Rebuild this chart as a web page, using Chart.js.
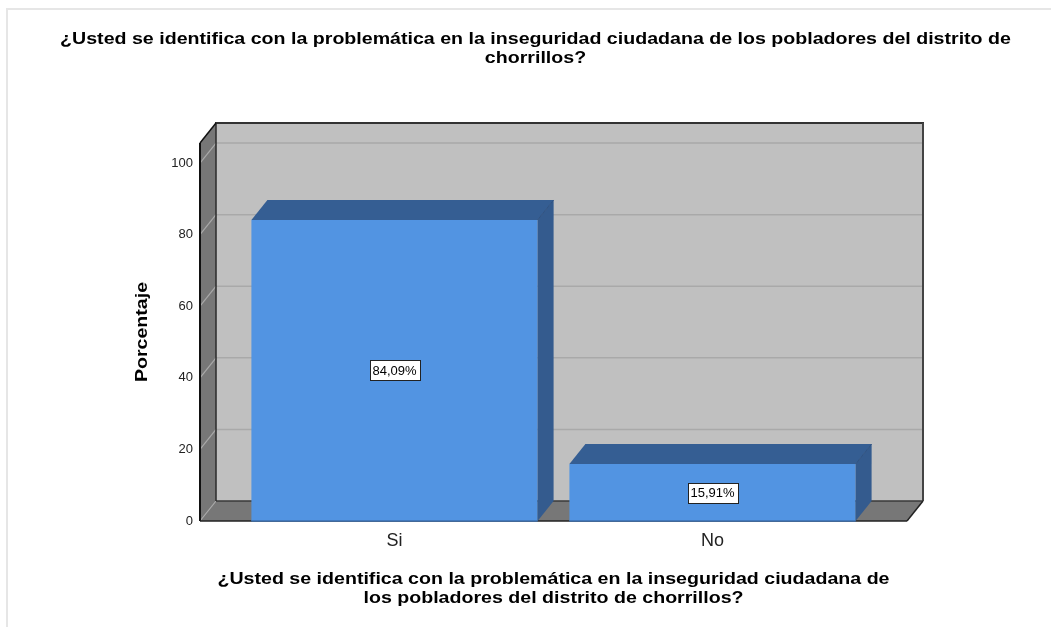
<!DOCTYPE html>
<html>
<head>
<meta charset="utf-8">
<script src="https://cdn.jsdelivr.net/npm/chart.js@4.4.1/dist/chart.umd.min.js"></script>
<style>
  html, body { margin: 0; padding: 0; background: #ffffff; }
  #wrap { position: relative; width: 1051px; height: 627px; }
</style>
</head>
<body>
<div id="wrap"><canvas id="chart" width="1051" height="627"></canvas></div>
<script>
// Chart data
const categories = ['Si', 'No'];
const percentages = [84.09, 15.91];
const yTicks = [0, 20, 40, 60, 80, 100];

const titleLines = [
  '¿Usted se identifica con la problemática en la inseguridad ciudadana de los pobladores del distrito de',
  'chorrillos?'
];
const xTitleLines = [
  '¿Usted se identifica con la problemática en la inseguridad ciudadana de',
  'los pobladores del distrito de chorrillos?'
];
const yTitle = 'Porcentaje';

// 3D look
const DEPTH_X = 16;
const DEPTH_Y = -20;
const FRAME_PAD = 35.5;   // floor / wall extends past outer categories
const FONT = '"Liberation Sans", Arial, sans-serif';
const TITLE_STRETCH = 1.225; // titles in the original are drawn wide

function poly(ctx, pts, fill, stroke, lw) {
  ctx.beginPath();
  ctx.moveTo(pts[0][0], pts[0][1]);
  for (let i = 1; i < pts.length; i++) ctx.lineTo(pts[i][0], pts[i][1]);
  ctx.closePath();
  if (fill) { ctx.fillStyle = fill; ctx.fill(); }
  if (stroke) { ctx.strokeStyle = stroke; ctx.lineWidth = lw || 1; ctx.stroke(); }
}

function line(ctx, x1, y1, x2, y2, color, lw) {
  ctx.beginPath();
  ctx.moveTo(x1, y1);
  ctx.lineTo(x2, y2);
  ctx.strokeStyle = color;
  ctx.lineWidth = lw || 1;
  ctx.stroke();
}

// centered text, stretched horizontally along its direction
function wideText(ctx, txt, x, y, angle) {
  ctx.save();
  ctx.translate(x, y);
  if (angle) ctx.rotate(angle);
  ctx.scale(TITLE_STRETCH, 1);
  ctx.fillText(txt, 0, 0);
  ctx.restore();
}

// Walls, floor and grid behind the bars
const wallsPlugin = {
  id: 'walls',
  beforeDatasetsDraw(chart) {
    const ctx = chart.ctx;
    const a = chart.chartArea;
    const y = chart.scales.y;
    const L = a.left - FRAME_PAD, R = a.right + FRAME_PAD;
    const T = a.top, B = y.getPixelForValue(0);
    const dx = DEPTH_X, dy = DEPTH_Y;
    ctx.save();

    // back wall
    poly(ctx, [[L + dx, T + dy], [R + dx, T + dy], [R + dx, B + dy], [L + dx, B + dy]], '#c0c0c0');
    // left side wall
    poly(ctx, [[L, T], [L + dx, T + dy], [L + dx, B + dy], [L, B]], '#777777');
    // floor
    poly(ctx, [[L, B], [L + dx, B + dy], [R + dx, B + dy], [R, B]], '#777777');

    // grid lines
    yTicks.forEach(function(v) {
      if (v === 0) return;
      const py = y.getPixelForValue(v);
      line(ctx, L + dx, py + dy, R + dx, py + dy, '#a9a9a9', 1.5);
      line(ctx, L, py, L + dx, py + dy, '#a9a9a9', 1.2);
    });
    line(ctx, L, B, L + dx, B + dy, '#a9a9a9', 1.2);

    // outlines
    line(ctx, L + dx, B + dy, R + dx, B + dy, '#3a3a3a', 1.5);
    line(ctx, L + dx, T + dy, L + dx, B + dy, '#2a2a2a', 1.5);
    line(ctx, L + dx - 1, T + dy, R + dx + 1, T + dy, '#333333', 2);
    line(ctx, R + dx, T + dy, R + dx, B + dy, '#444444', 2);
    line(ctx, L, T, L + dx, T + dy, '#111111', 1.5);
    line(ctx, L, T, L, B, '#111111', 2);
    line(ctx, L, B, R, B, '#222222', 1.5);
    line(ctx, R, B, R + dx, B + dy, '#222222', 1.5);
    ctx.restore();
  },

  // top and side faces of bars, value boxes
  afterDatasetsDraw(chart) {
    const ctx = chart.ctx;
    const meta = chart.getDatasetMeta(0);
    const dx = DEPTH_X, dy = DEPTH_Y;
    ctx.save();
    meta.data.forEach(function(bar, i) {
      const x0 = bar.x - bar.width / 2, x1 = bar.x + bar.width / 2;
      const top = bar.y, base = bar.base;
      poly(ctx, [[x0, top], [x0 + dx, top + dy], [x1 + dx, top + dy], [x1, top]], '#355e93');
      poly(ctx, [[x1, top], [x1 + dx, top + dy], [x1 + dx, base + dy], [x1, base]], '#345b8e');
      line(ctx, x1, top, x1 + dx, top + dy, '#2f5282', 1);
      line(ctx, x0, base, x1, base, '#3d6fae', 1.5);

      // value label
      const txt = percentages[i].toFixed(2).replace('.', ',') + '%';
      ctx.font = '13px ' + FONT;
      const w = Math.round(ctx.measureText(txt).width + 6);
      const cy = (top + base) / 2;
      const bx = Math.round(bar.x - w / 2) + 0.5, by = Math.round(cy - 10) + 0.5;
      ctx.fillStyle = '#ffffff';
      ctx.fillRect(bx, by, w, 20);
      ctx.strokeStyle = '#222222';
      ctx.lineWidth = 1;
      ctx.strokeRect(bx, by, w, 20);
      ctx.fillStyle = '#000000';
      ctx.textAlign = 'center';
      ctx.textBaseline = 'middle';
      ctx.fillText(txt, bar.x, cy + 1);
    });
    ctx.restore();
  },

  // titles and outer frame
  afterDraw(chart) {
    const ctx = chart.ctx;
    const a = chart.chartArea;
    ctx.save();
    ctx.strokeStyle = '#e6e6e6';
    ctx.lineWidth = 2;
    ctx.beginPath();
    ctx.moveTo(7, 627);
    ctx.lineTo(7, 9);
    ctx.lineTo(1051, 9);
    ctx.stroke();

    ctx.fillStyle = '#000000';
    ctx.textAlign = 'center';
    ctx.textBaseline = 'middle';
    ctx.font = 'bold 16px ' + FONT;
    titleLines.forEach(function(t, i) { wideText(ctx, t, 535.5, 40 + i * 19); });
    xTitleLines.forEach(function(t, i) { wideText(ctx, t, (a.left + a.right) / 2, 580 + i * 19); });
    wideText(ctx, yTitle, 143, 332, -Math.PI / 2);
    ctx.restore();
  }
};

const ctx = document.getElementById('chart').getContext('2d');
const chart = new Chart(ctx, {
  type: 'bar',
  data: {
    labels: categories,
    datasets: [{
      data: percentages,
      backgroundColor: '#5294e2',
      borderWidth: 0,
      categoryPercentage: 1.0,
      barPercentage: 0.9
    }]
  },
  options: {
    responsive: false,
    animation: false,
    layout: {
      padding: { left: 0, top: 143, right: 179.5, bottom: 66 }
    },
    plugins: {
      legend: { display: false },
      title: { display: false },
      tooltip: { enabled: false }
    },
    scales: {
      x: {
        grid: { display: false, drawTicks: false },
        border: { display: false },
        ticks: {
          color: '#222222',
          padding: 9,
          font: { family: FONT, size: 18 }
        },
        afterFit: function(s) { s.height = 40; }
      },
      y: {
        min: 0,
        max: 105.6,
        grid: { display: false, drawTicks: false },
        border: { display: false },
        ticks: {
          stepSize: 20,
          color: '#222222',
          padding: 42.5,
          font: { family: FONT, size: 13 }
        },
        afterBuildTicks: function(s) {
          s.ticks = yTicks.map(function(v) { return { value: v }; });
        },
        afterFit: function(s) { s.width = 235.5; }
      }
    }
  },
  plugins: [wallsPlugin]
});
</script>
</body>
</html>
